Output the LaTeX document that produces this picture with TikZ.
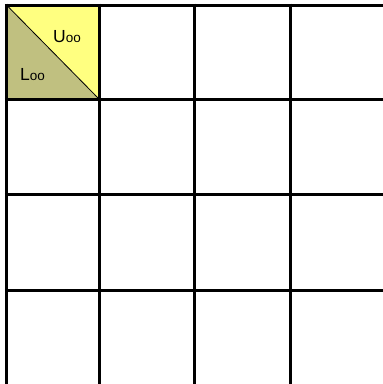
\documentclass[tikz,border=0pt]{standalone}
\usepackage{fontspec}
\setmainfont{Liberation Sans}
\definecolor{upperc}{HTML}{FFFF80}
\definecolor{lowerc}{HTML}{C0C080}
\begin{document}
\begin{tikzpicture}[x=1pt,y=-1pt,
  gridline/.style={line width=3pt,black},
  lbl/.style={inner sep=0pt,font=\fontsize{17.5}{17.5}\selectfont}]
\useasboundingbox (0,0) rectangle (383,384);
\fill[white] (0,0) rectangle (383,384);
\coordinate (tl) at (6.5,5);
\coordinate (tr) at (99,5);
\coordinate (bl) at (6.5,99);
\coordinate (br) at (99,99);
\fill[upperc] (tl) -- (tr) -- (br) -- cycle;
\fill[lowerc] (tl) -- (bl) -- (br) -- cycle;
\draw[line width=0.8pt] (tl) -- (br);
\node[lbl,anchor=base west] (u) at (53,42) {U{\fontsize{13.5}{13.5}\selectfont oo}};
\node[lbl,anchor=base west] (l) at (20,80) {L{\fontsize{13.5}{13.5}\selectfont oo}};
\foreach \x in {6.5,99,194,290} \draw[gridline] (\x,3.5) -- (\x,390);
\foreach \y in {5,99,194,290} \draw[gridline] (5,\y) -- (390,\y);
\end{tikzpicture}
\end{document}
